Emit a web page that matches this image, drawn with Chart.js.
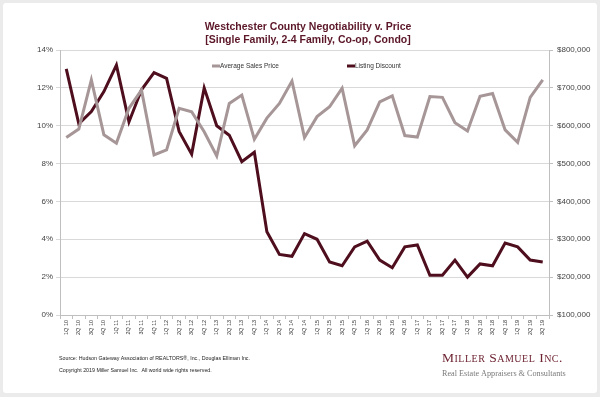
<!DOCTYPE html>
<html><head><meta charset="utf-8">
<script src="https://cdn.jsdelivr.net/npm/chart.js@4/dist/chart.umd.min.js"></script>
<style>
html,body{margin:0;padding:0;background:#ebebeb;width:600px;height:397px;overflow:hidden;}
#card{position:absolute;left:3px;top:3px;width:594px;height:390px;background:#fff;border-radius:3px;}
#c{position:absolute;left:0;top:0;}
</style></head><body>
<div id="card"></div>
<canvas id="c" width="600" height="397"></canvas>
<script>
const categories = ['1Q 10','2Q 10','3Q 10','4Q 10','1Q 11','2Q 11','3Q 11','4Q 11','1Q 12','2Q 12','3Q 12','4Q 12',
  '1Q 13','2Q 13','3Q 13','4Q 13','1Q 14','2Q 14','3Q 14','4Q 14','1Q 15','2Q 15','3Q 15','4Q 15',
  '1Q 16','2Q 16','3Q 16','4Q 16','1Q 17','2Q 17','3Q 17','4Q 17','1Q 18','2Q 18','3Q 18','4Q 18',
  '1Q 19','2Q 19','3Q 19'];
const averageSalesPrice = [569000,591000,721000,576000,554000,646000,694000,523000,536000,646000,637000,584000,
  520000,659000,681000,564000,620000,659000,718000,569000,624000,650000,699000,547000,
  589000,663000,679000,574000,570000,677000,675000,608000,586000,678000,685000,589000,
  556000,675000,721000];
const listingDiscount = [13.0,10.1,10.75,11.8,13.2,10.2,11.9,12.8,12.5,9.7,8.5,12.0,
  10.0,9.5,8.1,8.6,4.4,3.2,3.1,4.3,4.0,2.8,2.6,3.6,
  3.9,2.9,2.5,3.6,3.7,2.1,2.1,2.9,2.0,2.7,2.6,3.8,
  3.6,2.9,2.8];
const leftTicks = {min:0, max:14, step:2};
const rightTicks = {min:100000, max:800000, step:100000};
const titleLines = ['Westchester County Negotiability v. Price','[Single Family, 2-4 Family, Co-op, Condo]'];
const sourceLines = ['Source: Hudson Gateway Association of REALTORS®, Inc., Douglas Elliman Inc.',
  'Copyright 2019 Miller Samuel Inc.  All world wide rights reserved.'];
const logoName = 'Miller Samuel Inc.';
const logoTag = 'Real Estate Appraisers & Consultants';

const GRAY = '#a69697', MAROON = '#4e0e1d', TITLE = '#5b1628', LOGO = '#6e2332';
const SANS = '"Liberation Sans", Arial, sans-serif';
const SERIF = '"Liberation Serif", "Times New Roman", serif';

function smallCaps(ctx, text, x, y, big, small) {
  let cx = x;
  for (const ch of text) {
    const up = ch.toUpperCase();
    const size = /[a-z]/.test(ch) ? small : big;
    ctx.font = size + 'px ' + SERIF;
    ctx.fillText(up, cx, y);
    cx += ctx.measureText(up).width + 0.5;
  }
}

const decor = {
  id: 'decor',
  afterDraw(chart) {
    const ctx = chart.ctx;
    ctx.save();
    ctx.fillStyle = TITLE;
    ctx.font = 'bold 10.5px ' + SANS;
    ctx.textAlign = 'center'; ctx.textBaseline = 'middle';
    ctx.fillText(titleLines[0], 308, 27);
    ctx.fillText(titleLines[1], 308, 40);
    ctx.textAlign = 'left';
    ctx.font = '6.5px ' + SANS;
    const items = [[212, 0], [347, 1]];
    for (const [x, i] of items) {
      const ds = chart.data.datasets[i];
      ctx.strokeStyle = ds.borderColor; ctx.lineWidth = 3;
      ctx.beginPath(); ctx.moveTo(x, 66); ctx.lineTo(x + 8, 66); ctx.stroke();
      ctx.fillStyle = '#333';
      ctx.fillText(ds.label, x + 8, 66.5);
    }
    ctx.font = '5.3px ' + SANS;
    ctx.fillStyle = '#222';
    ctx.textBaseline = 'alphabetic';
    ctx.fillText(sourceLines[0], 59, 360);
    ctx.fillText(sourceLines[1], 59, 372);
    ctx.fillStyle = LOGO;
    smallCaps(ctx, logoName, 442, 362, 13.5, 10);
    ctx.fillStyle = '#7a7a7a';
    ctx.font = '8.2px ' + SERIF;
    ctx.fillText(logoTag, 442, 376);
    ctx.restore();
  }
};

new Chart(document.getElementById('c'), {
  type: 'line',
  data: {
    labels: categories,
    datasets: [
      {label:'Average Sales Price', data: averageSalesPrice, yAxisID:'y1', borderColor: GRAY, backgroundColor: GRAY,
       borderWidth: 3, pointRadius: 0, tension: 0, order: 0},
      {label:'Listing Discount', data: listingDiscount, yAxisID:'y', borderColor: MAROON, backgroundColor: MAROON,
       borderWidth: 3, pointRadius: 0, tension: 0, order: 1}
    ]
  },
  options: {
    responsive: false, animation: false, devicePixelRatio: 1,
    layout: {padding: {top: 50, left: 0, right: 0, bottom: 0}},
    plugins: {legend: {display: false}, title: {display: false}, tooltip: {enabled: false}},
    scales: {
      x: {
        offset: true,
        grid: {offset: true, drawOnChartArea: false, drawTicks: true, tickLength: 4, color: '#bfbfbf'},
        border: {color: '#bfbfbf'},
        ticks: {autoSkip: false, minRotation: 90, maxRotation: 90, padding: 1, color: '#333',
                font: {size: 5.5, family: SANS}},
        afterFit(s) { s.height = 82; }
      },
      y: {
        position: 'left', min: leftTicks.min, max: leftTicks.max,
        grid: {color: '#d9d9d9', tickLength: 4},
        border: {color: '#bfbfbf'},
        ticks: {stepSize: leftTicks.step, padding: 3, color: '#444', font: {size: 8, family: SANS},
                callback: v => v + '%'},
        afterFit(s) { s.width = 60; }
      },
      y1: {
        position: 'right', min: rightTicks.min, max: rightTicks.max,
        grid: {drawOnChartArea: false, color: '#bfbfbf', tickLength: 4},
        border: {color: '#bfbfbf'},
        ticks: {stepSize: rightTicks.step, padding: 4, color: '#444', font: {size: 8, family: SANS},
                callback: v => '$' + v.toLocaleString('en-US')},
        afterFit(s) { s.width = 51; }
      }
    }
  },
  plugins: [decor]
});
</script>
</body></html>
